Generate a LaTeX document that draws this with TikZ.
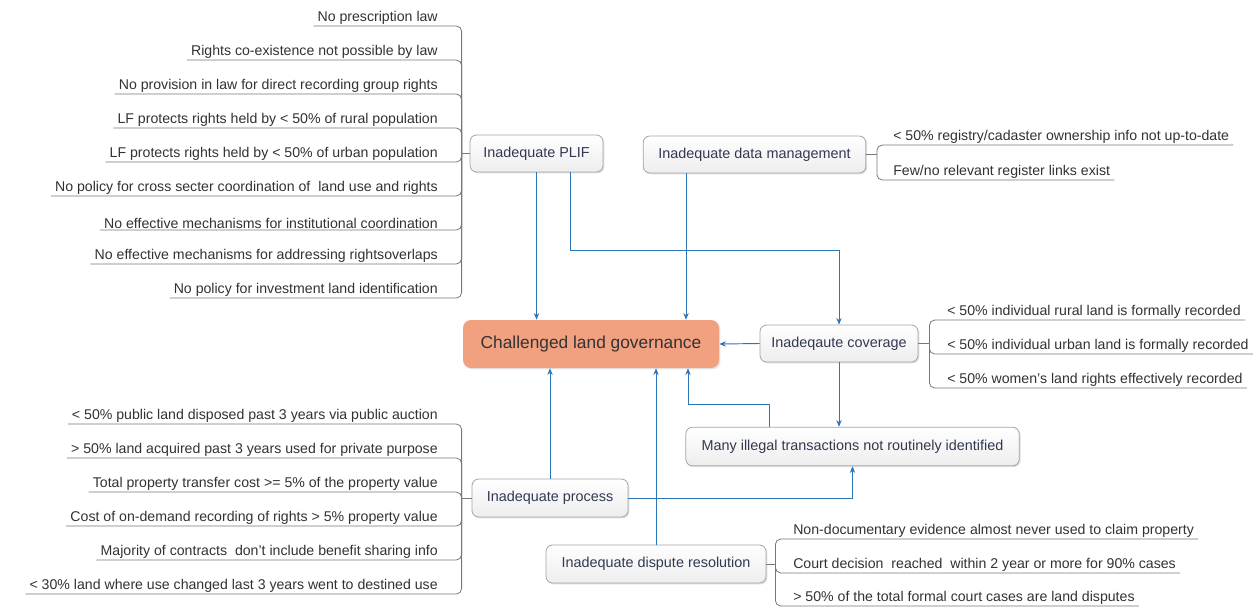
\documentclass[tikz,border=0pt]{standalone}
\usepackage{fontspec}
\setmainfont{Liberation Sans}
\usetikzlibrary{arrows.meta,shadows}
\definecolor{arrowblue}{RGB}{46,117,182}
\definecolor{brgray}{RGB}{120,120,120}
\definecolor{itemtext}{RGB}{50,50,50}
\definecolor{boxtext}{RGB}{50,56,82}
\definecolor{boxline}{RGB}{165,165,165}
\definecolor{salmon}{RGB}{241,160,128}
\tikzset{
  box/.style={draw=boxline, line width=0.6pt, rounded corners=5pt, top color=white, bottom color=gray!14,
    drop shadow={shadow xshift=1pt,shadow yshift=-1pt,opacity=0.25},
    text=boxtext, font=\fontsize{10.8}{12}\selectfont, inner sep=0pt},
  centralbox/.style={fill=salmon, draw=none, rounded corners=6pt,
    drop shadow={shadow xshift=1pt,shadow yshift=-1pt,opacity=0.2},
    text=black!80, font=\fontsize{13}{15}\selectfont, inner sep=0pt},
  itemL/.style={anchor=south east, text=itemtext, font=\fontsize{10.6}{12}\selectfont, inner xsep=3pt, inner ysep=1pt},
  itemR/.style={anchor=south west, text=itemtext, font=\fontsize{10.6}{12}\selectfont, inner xsep=3pt, inner ysep=1pt},
  branch/.style={draw=brgray, line width=0.6pt, rounded corners=4pt},
  arr/.style={draw=arrowblue, line width=0.7pt, -{Stealth[length=5pt,width=4pt]}},
}
\begin{document}
\begin{tikzpicture}[x=0.75pt,y=-0.75pt]
\useasboundingbox (0,0) rectangle (1256,608);
\fill[white] (0,0) rectangle (1256,608);

% main nodes
\node[centralbox, minimum width=192pt, minimum height=36pt] (central) at (591,344) {Challenged land governance};
\node[box, minimum width=99.75pt, minimum height=27.75pt] (plif) at (536.5,153.5) {Inadequate PLIF};
\node[box, minimum width=167pt, minimum height=27.75pt] (data) at (754.5,154.5) {Inadequate data management};
\node[box, minimum width=118.5pt, minimum height=27.75pt] (cov) at (839,343.5) {Inadeqaute coverage};
\node[box, minimum width=250pt, minimum height=29pt] (ill) at (852.5,446.5) {Many illegal transactions not routinely identified};
\node[box, minimum width=117pt, minimum height=28.5pt] (proc) at (550,498) {Inadequate process};
\node[box, minimum width=165pt, minimum height=28.5pt] (disp) at (656,564) {Inadequate dispute resolution};

% PLIF items
\node[itemL] (p1) at (442,26) {No prescription law};
\node[itemL] (p2) at (442,60) {Rights co-existence not possible by law};
\node[itemL] (p3) at (442,94) {No provision in law for direct recording group rights};
\node[itemL] (p4) at (442,128) {LF protects rights held by < 50\% of rural population};
\node[itemL] (p5) at (442,162) {LF protects rights held by < 50\% of urban population};
\node[itemL] (p6) at (442,196) {No policy for cross secter coordination of \ land use and rights};
\node[itemL] (p7) at (442,230) {No effective mechanisms for institutional coordination};
\node[itemL] (p8) at (442,264) {No effective mechanisms for addressing rightsoverlaps};
\node[itemL] (p9) at (442,298) {No policy for investment land identification};
\coordinate (pb) at ([xshift=-6pt]plif.west);
\draw[branch] (plif.west) -- (pb);
\foreach \i in {1,...,9} { \draw[branch] (pb) |- (p\i.south west); }

% data items
\node[itemR] (d1) at (889,145) {< 50\% registry/cadaster ownership info not up-to-date};
\node[itemR] (d2) at (889,180) {Few/no relevant register links exist};
\coordinate (db) at ([xshift=8pt]data.east);
\draw[branch] (data.east) -- (db);
\foreach \i in {1,2} { \draw[branch] (db) |- (d\i.south east); }

% coverage items
\node[itemR] (c1) at (943,320) {< 50\% individual rural land is formally recorded};
\node[itemR] (c2) at (943,354) {< 50\% individual urban land is formally recorded};
\node[itemR] (c3) at (943,388) {< 50\% women's land rights effectively recorded};
\coordinate (cb) at ([xshift=8.25pt]cov.east);
\draw[branch] (cov.east) -- (cb);
\foreach \i in {1,2,3} { \draw[branch] (cb) |- (c\i.south east); }

% process items
\node[itemL] (r1) at (442,424) {< 50\% public land disposed past 3 years via public auction};
\node[itemL] (r2) at (442,458) {> 50\% land acquired past 3 years used for private purpose};
\node[itemL] (r3) at (442,492) {Total property transfer cost >= 5\% of the property value};
\node[itemL] (r4) at (442,526) {Cost of on-demand recording of rights > 5\% property value};
\node[itemL] (r5) at (442,560) {Majority of contracts \ don't include benefit sharing info};
\node[itemL] (r6) at (442,594) {< 30\% land where use changed last 3 years went to destined use};
\coordinate (rb) at ([xshift=-7.5pt]proc.west);
\draw[branch] (proc.west) -- (rb);
\foreach \i in {1,...,6} { \draw[branch] (rb) |- (r\i.south west); }

% dispute items
\node[itemR] (s1) at (789,539) {Non-documentary evidence almost never used to claim property};
\node[itemR] (s2) at (789,573) {Court decision \ reached \ within 2 year or more for 90\% cases};
\node[itemR] (s3) at (789,606) {> 50\% of the total formal court cases are land disputes};
\coordinate (sb) at ([xshift=6.75pt]disp.east);
\draw[branch] (disp.east) -- (sb);
\foreach \i in {1,2,3} { \draw[branch] (sb) |- (s\i.south east); }

% connectors
\coordinate (k1) at (570,250);
\coordinate (dx) at (686,0);
\coordinate (i1) at (769,404);
\coordinate (i2) at (688,404);
\draw[arr] (plif.south) -- (plif.south |- central.north);
\draw[arr] (plif.south -| k1) -- (k1) -| (cov.north);
\draw[arr] (data.south -| dx) -- (dx |- central.north);
\draw[arr] (cov.west) -- (central.east);
\draw[arr] (cov.south) -- (cov.south |- ill.north);
\draw[arr] (ill.north -| i1) -- (i1) -- (i2) -- (i2 |- central.south);
\draw[arr] (proc.north) -- (proc.north |- central.south);
\draw[arr] (proc.east) -| (ill.south);
\draw[arr] (disp.north) -- (disp.north |- central.south);
\end{tikzpicture}
\end{document}
